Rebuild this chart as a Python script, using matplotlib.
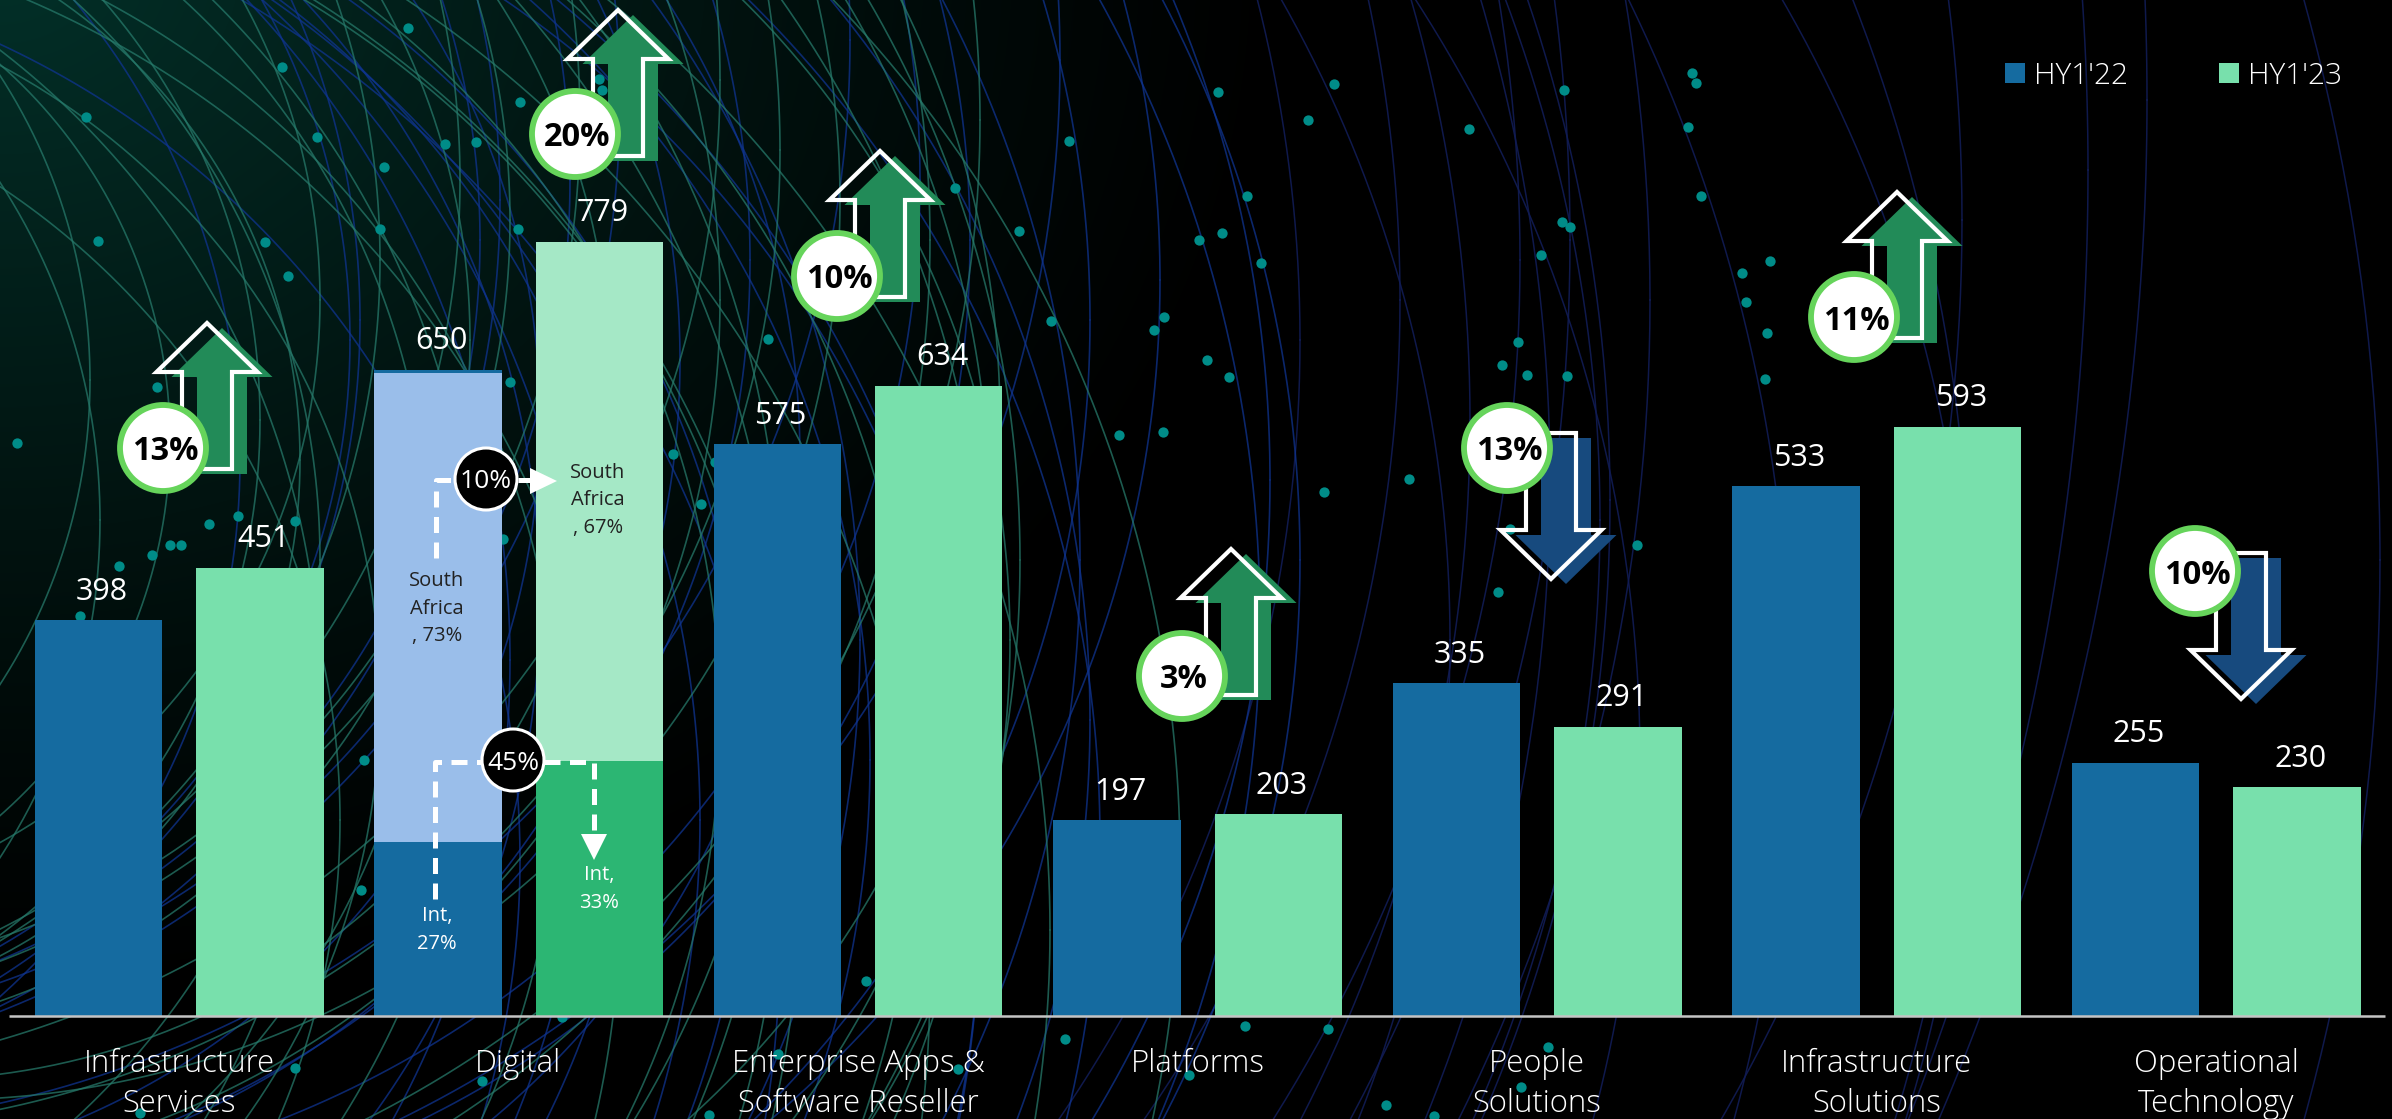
import numpy as np
import matplotlib
matplotlib.use("Agg")
import matplotlib.pyplot as plt
from matplotlib.patches import Circle, Polygon

plt.rcParams['font.family'] = ['Open Sans', 'DejaVu Sans']

# chart data
categories = ['Infrastructure\nServices', 'Digital', 'Enterprise Apps &\nSoftware Reseller', 'Platforms',
              'People\nSolutions', 'Infrastructure\nSolutions', 'Operational\nTechnology']
hy22 = [398, 650, 575, 197, 335, 533, 255]
hy23 = [451, 779, 634, 203, 291, 593, 230]
digital_int = [175, 257]
digital_sa = [472, 522]

# arrows: label, direction, arrow tip px, badge centre px
change_labels = ['13%', '20%', '10%', '3%', '13%', '11%', '10%']
change_dirs = ['up', 'up', 'up', 'up', 'down', 'up', 'down']
tip_x = [207, 618, 880, 1231, 1551, 1897, 2241]
tip_y = [323, 10, 151, 549, 579, 192, 699]
badge_x = [163, 575, 837, 1182, 1507, 1854, 2195]
badge_y = [448, 134, 276, 676, 448, 317, 571]

# background dots
dot_x = [408, 282, 86, 317, 445, 476, 384, 380, 98, 265, 288, 157, 520, 599, 602, 518, 510, 673, 701, 503,
         364, 361, 482, 562, 1218, 1069, 955, 1247, 1019, 1199, 1222, 1261, 1051, 1164, 1154, 768, 1207, 1229,
         1119, 1163, 715, 1334, 1308, 1469, 1564, 1692, 1696, 1688, 1701, 1562, 1570, 1541, 1770, 1742, 1746,
         1767, 1518, 1502, 1527, 1567, 1765, 1409, 1324, 1510, 1637, 1498, 17, 209, 238, 295, 170, 181, 152,
         119, 80, 295, 140, 866, 1245, 1328, 1065, 778, 958, 1189, 1386, 1434, 709, 1548, 1521]
dot_y = [28, 67, 117, 137, 144, 142, 167, 229, 241, 242, 276, 387, 102, 79, 90, 229, 382, 454, 504, 539,
         760, 890, 1081, 1017, 92, 141, 188, 196, 231, 240, 233, 263, 321, 317, 330, 339, 360, 377,
         435, 432, 462, 84, 120, 129, 90, 73, 83, 127, 196, 222, 227, 255, 261, 273, 302,
         333, 342, 365, 375, 376, 379, 479, 492, 529, 545, 592, 443, 524, 516, 521, 545, 545, 555,
         566, 616, 1068, 1113, 981, 1026, 1029, 1039, 1054, 1069, 1075, 1105, 1116, 1115, 1047, 1087]

# background arcs (centre x, centre y, radius)
teal_arcs = [(-420, 820, 760), (-360, 900, 980), (-300, 760, 860), (-250, 980, 1180), (-500, 700, 820),
             (-200, 840, 980), (-150, 930, 1200), (-420, 640, 900), (-330, 560, 760), (-280, 700, 1060),
             (-120, 780, 1040), (-60, 860, 1240), (-220, 600, 1000), (-160, 660, 1150), (-90, 560, 1110),
             (-380, 420, 640), (-300, 300, 620), (-420, 260, 800), (-250, 220, 760), (-160, 300, 880),
             (-320, 120, 900), (-90, 380, 700), (-200, 150, 980), (-120, 240, 1050), (60, 420, 940),
             (-20, 520, 1010), (110, 640, 900), (-520, 520, 620), (-470, 380, 560), (-260, 460, 560),
             (-340, 700, 720), (-240, 880, 1040), (-440, 560, 760), (-180, 720, 900), (-380, 180, 840),
             (-280, 80, 1000), (-140, 120, 1120), (-230, 340, 700), (-60, 200, 900), (-330, 440, 500)]
blue_arcs = [(-380, 860, 900), (-310, 940, 1090), (-260, 720, 900), (-190, 900, 1170), (-450, 660, 960),
             (-150, 760, 1020), (-80, 840, 1180), (-340, 600, 880), (-230, 640, 1090), (-40, 720, 1130),
             (-130, 560, 1210), (-20, 620, 1280), (-350, 340, 700), (-280, 180, 850), (-180, 260, 930),
             (-90, 180, 1010), (-30, 320, 1120), (30, 480, 1240), (-400, 200, 900), (-220, 420, 760),
             (60, 280, 1100), (90, 560, 1210), (-480, 460, 720), (-300, 820, 1000), (-210, 780, 960),
             (-110, 900, 1090), (-410, 740, 1000), (-360, 100, 980), (-240, 40, 1090), (-120, 60, 1180),
             (-420, 320, 780), (-300, 240, 780), (-150, 360, 830), (-60, 460, 860), (-10, 240, 980)]
far_arcs = [(-453, 100, 2600), (-512, 170, 2600), (280, 560, 2100), (162, 220, 1800), (270, 620, 1700),
            (570, 700, 1400), (190, 700, 1600), (-200, 300, 1850), (-300, 240, 1870), (50, 500, 1560),
            (-100, 260, 1620), (-60, 420, 1530), (150, 640, 1300), (-40, 300, 1440), (-80, 340, 1380),
            (120, 520, 1480), (-150, 480, 1700), (240, 760, 1400)]

W, H = 2392, 1119
BASE_PX = 1016
PX_PER_UNIT = 0.994
PITCH = 339.5
BAR_W = 127.5
OFFSET = 80.75
FIRST_X = 179

DARK_BLUE = '#156BA0'
BAR_GREEN = '#78E0AC'
LIGHT_BLUE = '#9ABEEA'
LIGHT_GREEN = '#A5E8C6'
MID_GREEN = '#2CB673'

fig = plt.figure(figsize=(W / 100, H / 100), dpi=100, facecolor='black')

# background layer, in pixels
bg = fig.add_axes([0, 0, 1, 1], zorder=0)
bg.set_xlim(0, W)
bg.set_ylim(H, 0)
bg.axis('off')
yy, xx = np.mgrid[0:H:4, 0:W:4]
dist = np.hypot(xx / 1300, (yy + 40) / 1050)
glow = np.clip(1 - dist, 0, 1) ** 1.2
grad = np.dstack([0.012 * glow, 0.19 * glow, 0.16 * glow])
bg.imshow(grad, extent=[0, W, H, 0], aspect='auto', interpolation='bilinear', zorder=0)


def draw_arcs(arcs, color, alpha, lw):
    t = np.linspace(0, 2 * np.pi, 900)
    for cx, cy, r in arcs:
        x = cx + r * np.cos(t)
        y = cy + r * np.sin(t)
        bg.plot(x, y, color=color, alpha=alpha, lw=lw, zorder=1)


draw_arcs(far_arcs, '#111C55', 0.9, 1.1)
draw_arcs(blue_arcs, '#0F3490', 0.75, 1.2)
draw_arcs(teal_arcs, '#26796A', 0.75, 1.2)
bg.set_xlim(0, W)
bg.set_ylim(H, 0)
bg.scatter(dot_x, dot_y, s=55, color='#008C88', linewidths=0, zorder=2)

# bars
ax = fig.add_axes([0, (H - BASE_PX) / H, 1, BASE_PX / H], zorder=1)
ax.patch.set_alpha(0)
ax.set_xlim(-FIRST_X / PITCH, (W - FIRST_X) / PITCH)
ax.set_ylim(0, BASE_PX / PX_PER_UNIT)
for s in ax.spines.values():
    s.set_visible(False)
ax.yaxis.set_visible(False)

x = np.arange(len(categories))
w = BAR_W / PITCH
off = OFFSET / PITCH
bars22 = ax.bar(x - off, hy22, w, color=DARK_BLUE, label="HY1'22")
bars23 = ax.bar(x + off, hy23, w, color=BAR_GREEN, label="HY1'23")

# Digital breakdown sits on top of the plain bars
ax.bar(1 - off, digital_sa[0], w, bottom=digital_int[0], color=LIGHT_BLUE)
ax.bar(1 + off, digital_sa[1], w, bottom=digital_int[1], color=LIGHT_GREEN)
ax.bar(1 + off, digital_int[1], w, color=MID_GREEN)

ax.hlines(0, (9 - FIRST_X) / PITCH, (2385 - FIRST_X) / PITCH, color='#C4C4C4', lw=1.8, clip_on=False, zorder=5)

for i in x:
    ax.annotate(str(hy22[i]), (i - off, hy22[i]), xytext=(2.5, 20.5), textcoords='offset points',
                ha='center', va='center', color='white', fontsize=22)
    ax.annotate(str(hy23[i]), (i + off, hy23[i]), xytext=(2.5, 20.5), textcoords='offset points',
                ha='center', va='center', color='white', fontsize=22)

ax.set_xticks(x)
ax.set_xticklabels(categories, color='white', fontsize=22.4, linespacing=1.33, weight='light')
ax.tick_params(axis='x', length=0, pad=23)

leg = ax.legend(handles=[bars22, bars23], loc='upper left', bbox_to_anchor=(2005 / W, 1 - 61 / BASE_PX),
                ncol=2, frameon=False, labelcolor='white', handlelength=0.67, handleheight=0.67,
                handletextpad=0.3, columnspacing=3.05, borderpad=0, borderaxespad=0,
                prop=dict(size=21.5, weight='light'))

# annotation layer, in pixels
top = fig.add_axes([0, 0, 1, 1], zorder=2)
top.patch.set_alpha(0)
top.set_xlim(0, W)
top.set_ylim(H, 0)
top.axis('off')


def arrow_points(tx, ty, direction):
    # same shape for every arrow: 101 wide head, 50 wide shaft, 146 tall
    s = 1 if direction == 'up' else -1
    return [(tx, ty), (tx + 50.5, ty + s * 49), (tx + 25, ty + s * 49), (tx + 25, ty + s * 146),
            (tx - 25, ty + s * 146), (tx - 25, ty + s * 49), (tx - 50.5, ty + s * 49)]


for i in range(len(change_labels)):
    d = change_dirs[i]
    shadow = '#228B58' if d == 'up' else '#174A7E'
    top.add_patch(Polygon(arrow_points(tip_x[i] + 15, tip_y[i] + 5, d), closed=True, fc=shadow, ec='none', zorder=2))
    top.add_patch(Polygon(arrow_points(tip_x[i], tip_y[i], d), closed=True, fc='none', ec='white', lw=3,
                          joinstyle='miter', zorder=3))
    top.add_patch(Circle((badge_x[i], badge_y[i]), 43, fc='white', ec='#66D45B', lw=4.2, zorder=4))
    top.text(badge_x[i] + 2, badge_y[i] + 4, change_labels[i], ha='center', va='center', color='black',
             fontsize=23.5, weight='bold', zorder=5)

# dashed connectors in the Digital group
dash = dict(color='white', lw=3.6, dashes=(3.2, 1.9), dash_capstyle='butt', zorder=2, solid_joinstyle='miter')
top.plot([435, 435, 482], [899, 762, 762], **dash)
top.plot([544, 594, 594], [762, 762, 832], **dash)
top.plot([436, 436, 453], [558, 480, 480], **dash)
top.plot([518, 530], [480, 480], **dash)
top.add_patch(Polygon([(581, 834), (607, 834), (594, 860)], closed=True, fc='white', ec='none', zorder=3))
top.add_patch(Polygon([(530, 468), (530, 494), (557, 481)], closed=True, fc='white', ec='none', zorder=3))

for cx, cy, lab in [(486, 479, '10%'), (513, 760, '45%')]:
    top.add_patch(Circle((cx, cy), 31, fc='black', ec='white', lw=2.2, zorder=4))
    top.text(cx, cy + 3, lab, ha='center', va='center', color='white', fontsize=19, zorder=5)

seg = dict(ha='center', va='center', fontsize=14.5, linespacing=1.5, zorder=5)
top.text(437, 609, 'South\nAfrica\n, 73%', color='#222222', **seg)
top.text(598, 500, 'South\nAfrica\n, 67%', color='#222222', **seg)
top.text(437, 930, 'Int,\n27%', color='white', **seg)
top.text(599, 889, 'Int,\n33%', color='white', **seg)

fig.savefig('out.png', dpi=100, facecolor='black')
